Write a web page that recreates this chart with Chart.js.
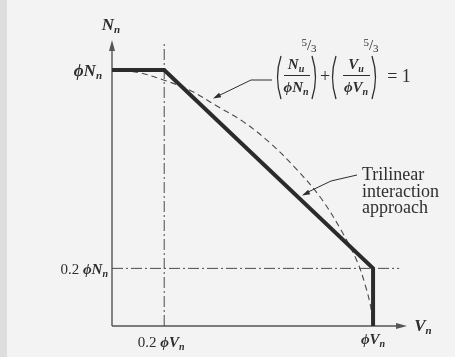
<!DOCTYPE html>
<html>
<head>
<meta charset="utf-8">
<script src="https://cdn.jsdelivr.net/npm/chart.js@4"></script>
<style>
  html, body { margin: 0; padding: 0; background: #f3f3f3; }
  canvas { display: block; }
</style>
</head>
<body>
<canvas id="interactionChart" width="455" height="357"></canvas>
<script>
// Data (V / phiVn on x, N / phiNn on y)
const trilinearV = [0, 0.2, 1, 1];
const trilinearN = [1, 1, 0.225, 0];

const curveV = [0, 0.1, 0.2, 0.3, 0.4, 0.5, 0.6, 0.7, 0.8, 0.88, 0.94, 0.97, 0.99, 1.0];
const curveN = [1, 0.99, 0.96, 0.92, 0.86, 0.80, 0.72, 0.62, 0.50, 0.37, 0.25, 0.16, 0.08, 0];

const guideVertV = [0.2, 0.2];
const guideVertN = [0, 1.105];
const guideHorzV = [0, 1.10];
const guideHorzN = [0.225, 0.225];

const xTickValues = [0.2, 1];
const yTickValues = [0.225, 1];

const SERIF = '"Liberation Serif", "DejaVu Serif", serif';
const INK = '#2e2e2e';
const PHI = '\u03D5';

const toPoints = (xs, ys) => xs.map((x, i) => ({ x: x, y: ys[i] }));

// Draw text built from parts with different fonts / offsets
function drawRich(ctx, parts, x, y, align) {
    let total = 0;
    parts.forEach(p => { ctx.font = p.f; p.w = ctx.measureText(p.t).width; total += p.w + (p.gap || 0); });
    let cx = x;
    if (align === 'right') cx = x - total;
    if (align === 'center') cx = x - total / 2;
    ctx.textBaseline = 'alphabetic';
    ctx.textAlign = 'left';
    parts.forEach(p => {
        ctx.font = p.f;
        ctx.fillText(p.t, cx, y + (p.dy || 0));
        cx += p.w + (p.gap || 0);
    });
}

function arrowHead(ctx, x, y, angle, len, half) {
    ctx.save();
    ctx.translate(x, y);
    ctx.rotate(angle);
    ctx.beginPath();
    ctx.moveTo(0, 0);
    ctx.lineTo(-len, -half);
    ctx.lineTo(-len, half);
    ctx.closePath();
    ctx.fill();
    ctx.restore();
}

// thin tall bracket, dir = 1 for "(" and -1 for ")"
function paren(ctx, x, top, bottom, dir) {
    const mid = (top + bottom) / 2;
    ctx.beginPath();
    ctx.moveTo(x + 5 * dir, top);
    ctx.quadraticCurveTo(x - 2 * dir, mid, x + 5 * dir, bottom);
    ctx.stroke();
}

const bi = s => 'bold italic ' + s + 'px ' + SERIF;
const rg = s => s + 'px ' + SERIF;

const figurePlugin = {
    id: 'figure',
    beforeDraw(chart) {
        const ctx = chart.ctx;
        ctx.save();
        ctx.fillStyle = '#f3f3f3';
        ctx.fillRect(0, 0, chart.width, chart.height);
        ctx.fillStyle = '#dedede';
        ctx.fillRect(0, 0, 7, chart.height);
        ctx.restore();
    },
    beforeDatasetsDraw(chart) {
        const ctx = chart.ctx;
        const xs = chart.scales.x, ys = chart.scales.y;
        const x0 = xs.getPixelForValue(0), y0 = ys.getPixelForValue(0);
        const xEnd = chart.chartArea.right, yTop = chart.chartArea.top;
        ctx.save();
        ctx.strokeStyle = '#555';
        ctx.fillStyle = '#555';
        ctx.lineWidth = 1.4;
        ctx.beginPath();
        ctx.moveTo(x0, y0);
        ctx.lineTo(x0, yTop + 4);
        ctx.moveTo(x0, y0);
        ctx.lineTo(xEnd - 4, y0);
        ctx.stroke();
        arrowHead(ctx, x0, yTop, -Math.PI / 2, 11, 3);
        arrowHead(ctx, xEnd, y0, 0, 11, 3);
        ctx.restore();
    },
    afterDraw(chart) {
        const ctx = chart.ctx;
        const xs = chart.scales.x, ys = chart.scales.y;
        const x0 = xs.getPixelForValue(0), y0 = ys.getPixelForValue(0);
        ctx.save();
        ctx.fillStyle = INK;
        ctx.strokeStyle = INK;

        // axis titles
        drawRich(ctx, [{ t: 'N', f: bi(17) }, { t: 'n', f: bi(11), dy: 3 }], x0 - 1, 30, 'center');
        drawRich(ctx, [{ t: 'V', f: bi(17) }, { t: 'n', f: bi(11), dy: 3 }], chart.chartArea.right + 16, y0 + 5, 'center');

        // y tick labels
        const yTop = ys.getPixelForValue(yTickValues[1]);
        drawRich(ctx, [{ t: PHI, f: bi(17) }, { t: 'N', f: bi(17) }, { t: 'n', f: bi(11), dy: 3 }], x0 - 10, yTop + 6, 'right');
        const yLow = ys.getPixelForValue(yTickValues[0]);
        drawRich(ctx, [{ t: '0.2 ', f: rg(15) }, { t: PHI, f: bi(15) }, { t: 'N', f: bi(15) }, { t: 'n', f: bi(10), dy: 3 }], x0 - 4, yLow + 6, 'right');

        // x tick labels
        drawRich(ctx, [{ t: '0.2 ', f: rg(15) }, { t: PHI, f: bi(15) }, { t: 'V', f: bi(15) }, { t: 'n', f: bi(10), dy: 3 }], xs.getPixelForValue(xTickValues[0]) - 3, y0 + 21, 'center');
        drawRich(ctx, [{ t: PHI, f: bi(15) }, { t: 'V', f: bi(15) }, { t: 'n', f: bi(10), dy: 3 }], xs.getPixelForValue(xTickValues[1]), y0 + 18, 'center');

        // equation annotation
        ctx.lineWidth = 1;
        ctx.beginPath();
        ctx.moveTo(272, 80);
        ctx.lineTo(251, 80);
        ctx.lineTo(216, 97);
        ctx.stroke();
        arrowHead(ctx, 213, 98.5, Math.atan2(17, -35), 8, 2.5);

        ctx.lineWidth = 1.3;
        paren(ctx, 276, 56, 99, 1);
        paren(ctx, 317, 56, 99, -1);
        paren(ctx, 331, 56, 99, 1);
        paren(ctx, 377, 56, 99, -1);
        drawRich(ctx, [{ t: 'N', f: bi(15) }, { t: 'u', f: bi(10), dy: 3 }], 296, 69, 'center');
        drawRich(ctx, [{ t: PHI, f: bi(15) }, { t: 'N', f: bi(15) }, { t: 'n', f: bi(10), dy: 3 }], 296, 92, 'center');
        drawRich(ctx, [{ t: 'V', f: bi(15) }, { t: 'u', f: bi(10), dy: 3 }], 356, 69, 'center');
        drawRich(ctx, [{ t: PHI, f: bi(15) }, { t: 'V', f: bi(15) }, { t: 'n', f: bi(10), dy: 3 }], 356, 92, 'center');
        ctx.lineWidth = 1;
        ctx.beginPath();
        ctx.moveTo(284, 75.5); ctx.lineTo(310, 75.5);
        ctx.moveTo(343, 75.5); ctx.lineTo(370, 75.5);
        ctx.stroke();
        drawRich(ctx, [{ t: '5', f: rg(11), dy: -4 }, { t: '/', f: rg(15) }, { t: '3', f: rg(11), dy: 2 }], 309, 50, 'center');
        drawRich(ctx, [{ t: '5', f: rg(11), dy: -4 }, { t: '/', f: rg(15) }, { t: '3', f: rg(11), dy: 2 }], 371, 50, 'center');
        drawRich(ctx, [{ t: '+', f: rg(18) }], 325, 82, 'center');
        drawRich(ctx, [{ t: '= 1', f: rg(18) }], 399, 82, 'center');

        // trilinear annotation
        ctx.font = rg(18);
        ctx.textAlign = 'left';
        ctx.fillText('Trilinear', 362, 180);
        ctx.fillText('interaction', 362, 197);
        ctx.fillText('approach', 362, 213);
        ctx.beginPath();
        ctx.moveTo(357, 175);
        ctx.lineTo(331, 181);
        ctx.lineTo(306, 193);
        ctx.stroke();
        arrowHead(ctx, 302, 195.5, Math.atan2(12, -25), 8, 2.5);
        ctx.restore();
    }
};

new Chart(document.getElementById('interactionChart'), {
    type: 'scatter',
    data: {
        datasets: [
            {
                label: 'Trilinear interaction approach',
                data: toPoints(trilinearV, trilinearN),
                showLine: true,
                borderColor: '#2b2b2b',
                borderWidth: 4,
                pointRadius: 0,
                tension: 0,
                clip: false,
                borderJoinStyle: 'miter',
                borderCapStyle: 'butt'
            },
            {
                label: 'Interaction curve',
                data: toPoints(curveV, curveN),
                showLine: true,
                borderColor: '#4a4a4a',
                borderWidth: 1.1,
                borderDash: [6, 4],
                pointRadius: 0,
                tension: 0.35,
                clip: false
            },
            {
                label: '0.2 phiVn',
                data: toPoints(guideVertV, guideVertN),
                showLine: true,
                borderColor: '#4a4a4a',
                borderWidth: 1,
                borderDash: [11, 3, 2, 3],
                pointRadius: 0,
                clip: false
            },
            {
                label: '0.2 phiNn',
                data: toPoints(guideHorzV, guideHorzN),
                showLine: true,
                borderColor: '#4a4a4a',
                borderWidth: 1,
                borderDash: [11, 3, 2, 3],
                pointRadius: 0,
                clip: false
            }
        ]
    },
    options: {
        responsive: false,
        animation: false,
        devicePixelRatio: 1,
        layout: { padding: { left: 112, right: 48, top: 40, bottom: 31 } },
        plugins: {
            legend: { display: false },
            tooltip: { enabled: false }
        },
        scales: {
            x: { type: 'linear', min: 0, max: 1.13, display: false },
            y: { type: 'linear', min: 0, max: 1.117, display: false }
        }
    },
    plugins: [figurePlugin]
});
</script>
</body>
</html>
